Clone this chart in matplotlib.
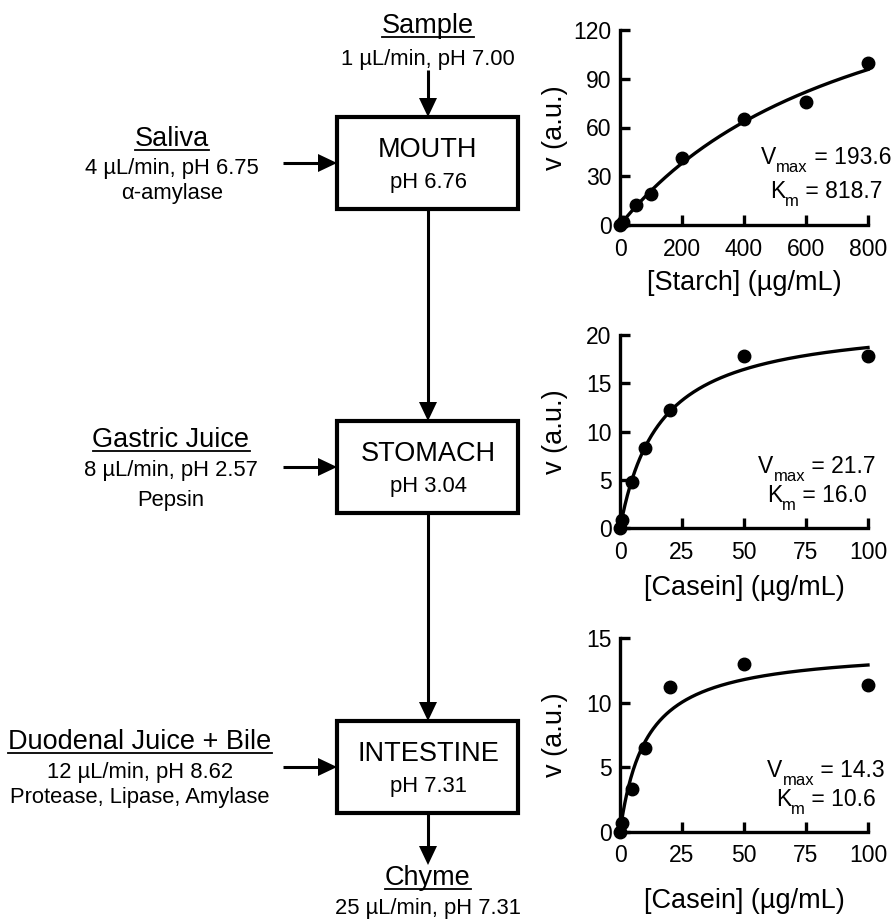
import numpy as np
import matplotlib
matplotlib.use('Agg')
import matplotlib.pyplot as plt
from matplotlib.patches import Rectangle, Polygon

plt.rcParams['font.family'] = ['Liberation Sans', 'DejaVu Sans']

# kinetics data
starch_conc = [0, 10, 50, 100, 200, 400, 600, 800]
starch_rate = [0, 2, 12.5, 19, 41, 65.5, 75.5, 99.5]
casein_conc = [0, 1, 5, 10, 20, 50, 100]
stomach_rate = [0, 0.9, 4.8, 8.3, 12.2, 17.8, 17.8]
intestine_rate = [0, 0.7, 3.3, 6.5, 11.2, 13.0, 11.4]

vmax_fit = [193.6, 21.7, 14.3]
km_fit = [818.7, 16.0, 10.6]

x_labels = ['[Starch] (µg/mL)', '[Casein] (µg/mL)', '[Casein] (µg/mL)']
x_ticks = [[0, 200, 400, 600, 800], [0, 25, 50, 75, 100], [0, 25, 50, 75, 100]]
y_ticks = [[0, 30, 60, 90, 120], [0, 5, 10, 15, 20], [0, 5, 10, 15]]

# flow diagram text
compartments = ['MOUTH', 'STOMACH', 'INTESTINE']
compartment_ph = ['pH 6.76', 'pH 3.04', 'pH 7.31']
inputs = ['Saliva', 'Gastric Juice', 'Duodenal Juice + Bile']
input_flow = ['4 µL/min, pH 6.75', '8 µL/min, pH 2.57', '12 µL/min, pH 8.62']
input_enzyme = ['α-amylase', 'Pepsin', 'Protease, Lipase, Amylase']

W, H = 896, 919
fig = plt.figure(figsize=(W / 100, H / 100), dpi=100)

# diagram drawn in pixel space
dax = fig.add_axes([0, 0, 1, 1])
dax.set_xlim(0, W)
dax.set_ylim(H, 0)
dax.axis('off')
renderer = fig.canvas.get_renderer()

BIG, SMALL = 19.5, 15.8
cx = 428
box_l, box_r = 337, 518
box_cy = [163, 467, 767]
box_h = 92
head_l, head_w = 19, 9


def arrow(x0, y0, x1, y1):
    # line with filled triangular head at (x1, y1)
    d = np.array([x1 - x0, y1 - y0], dtype=float)
    d /= np.hypot(*d)
    n = np.array([-d[1], d[0]])
    base = np.array([x1, y1]) - d * head_l
    dax.plot([x0, base[0]], [y0, base[1]], color='k', lw=2.2, solid_capstyle='butt')
    tri = [(x1, y1), tuple(base + n * head_w), tuple(base - n * head_w)]
    dax.add_patch(Polygon(tri, closed=True, color='k', lw=0))


def title(x, y, s):
    t = dax.text(x, y, s, fontsize=BIG, ha='center', va='baseline')
    bb = t.get_window_extent(renderer)
    dax.plot([bb.x0, bb.x1], [y + 4, y + 4], color='k', lw=1.3)


title(cx, 33, 'Sample')
dax.text(cx, 65, '1 µL/min, pH 7.00', fontsize=SMALL, ha='center', va='baseline')
arrow(cx, 70, cx, box_cy[0] - box_h / 2)

left_x = [172, 171, 140]
text_off = [(-17, 11, 36), (-20, 9, 39), (-18, 11, 36)]
for i, cy in enumerate(box_cy):
    dax.add_patch(Rectangle((box_l, cy - box_h / 2), box_r - box_l, box_h,
                            fill=False, lw=3, ec='k', zorder=3))
    dax.text(cx, cy - 6, compartments[i], fontsize=BIG, ha='center', va='baseline')
    dax.text(cx, cy + 25, compartment_ph[i], fontsize=SMALL, ha='center', va='baseline')
    arrow(283, cy, box_l, cy)
    o1, o2, o3 = text_off[i]
    title(left_x[i], cy + o1, inputs[i])
    dax.text(left_x[i], cy + o2, input_flow[i], fontsize=SMALL, ha='center', va='baseline')
    dax.text(left_x[i], cy + o3, input_enzyme[i], fontsize=SMALL, ha='center', va='baseline')
    if i < 2:
        arrow(cx, cy + box_h / 2, cx, box_cy[i + 1] - box_h / 2)

arrow(cx, box_cy[2] + box_h / 2, cx, 865)
title(cx, 885, 'Chyme')
dax.text(cx, 914, '25 µL/min, pH 7.31', fontsize=SMALL, ha='center', va='baseline')


def sub_label(xc, yb, main, sub, rest, size=16.5, sub_size=12, drop=8):
    # "main" + lowered subscript + "rest", centred on xc
    parts = [dax.text(0, yb, main, fontsize=size, va='baseline'),
             dax.text(0, yb + drop, sub, fontsize=sub_size, va='baseline'),
             dax.text(0, yb, rest, fontsize=size, va='baseline')]
    widths = [p.get_window_extent(renderer).width for p in parts]
    x = xc - sum(widths) / 2
    for p, w in zip(parts, widths):
        p.set_x(x)
        x += w


# Michaelis-Menten panels
panel_pos = [[620 / W, 1 - 225 / H, 248 / W, 195 / H],
             [620 / W, 1 - 528.3 / H, 248 / W, 193.3 / H],
             [620 / W, 1 - 831.7 / H, 248 / W, 193.4 / H]]
panel_x = [starch_conc, casein_conc, casein_conc]
panel_y = [starch_rate, stomach_rate, intestine_rate]
label_xy = [(826, 164, 198), (817, 473, 502), (826, 777, 806)]
xlabel_pad = [7, 8, 15]

for i in range(3):
    ax = fig.add_axes(panel_pos[i])
    ax.patch.set_alpha(0)
    xs = np.array(panel_x[i], dtype=float)
    xmax = x_ticks[i][-1]
    xf = np.linspace(0, xmax, 300)
    ax.plot(xf, vmax_fit[i] * xf / (km_fit[i] + xf), color='k', lw=2.4, clip_on=False)
    ax.plot(xs, panel_y[i], 'o', color='k', ms=9, clip_on=False, zorder=4)
    ax.set_xlim(0, xmax)
    ax.set_ylim(0, y_ticks[i][-1])
    ax.set_xticks(x_ticks[i])
    ax.set_yticks(y_ticks[i])
    ax.spines[['top', 'right']].set_visible(False)
    for s in ['left', 'bottom']:
        ax.spines[s].set_linewidth(2.4)
    ax.tick_params(direction='in', length=7, width=2.4, labelsize=16.5)
    ax.tick_params(axis='x', pad=9)
    ax.tick_params(axis='y', pad=6)
    ax.set_xlabel(x_labels[i], fontsize=19.5, labelpad=xlabel_pad[i])
    ax.set_ylabel('v (a.u.)', fontsize=19.5)
    ax.yaxis.set_label_coords(-0.21, 0.5)
    lx, ly1, ly2 = label_xy[i]
    sub_label(lx, ly1, 'V', 'max', f' = {vmax_fit[i]:.1f}')
    sub_label(lx, ly2, 'K', 'm', f' = {km_fit[i]:.1f}')

fig.savefig('out.png', dpi=100)
